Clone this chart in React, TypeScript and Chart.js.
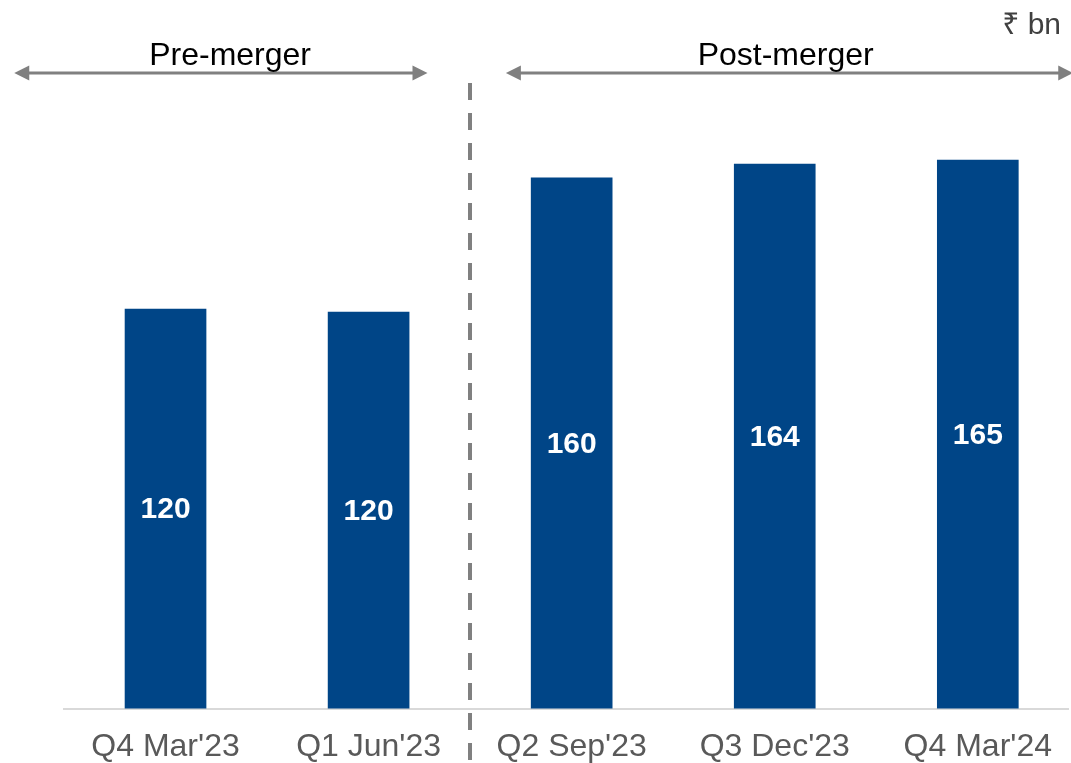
import React, { useEffect, useRef } from "react";
import { Chart, registerables } from "chart.js";

Chart.register(...registerables);

const categories: string[] = ["Q4 Mar'23", "Q1 Jun'23", "Q2 Sep'23", "Q3 Dec'23", "Q4 Mar'24"];
const values: number[] = [120.45, 119.55, 160.0, 164.2, 165.4];
const periodLabels: string[] = ["Pre-merger", "Post-merger"];
// spans of the period arrows and label centres, in category units
const periodStarts: number[] = [-0.745, 1.676];
const periodEnds: number[] = [1.29, 4.47];
const periodLabelAt: number[] = [0.318, 3.054];
const dividerAt = 1.5;
const unitLabel = "₹ bn";

const FONT = "'Liberation Sans', Arial, 'Noto Sans', 'DejaVu Sans', sans-serif";
const BAR = "#004587";
const GREY = "#808080";

const overlayPlugin = {
  id: "overlay",
  afterDatasetsDraw(chart: any) {
    const { ctx } = chart;
    const meta = chart.getDatasetMeta(0);
    ctx.save();
    ctx.fillStyle = "#ffffff";
    ctx.font = `bold 30px ${FONT}`;
    ctx.textAlign = "center";
    ctx.textBaseline = "middle";
    meta.data.forEach((bar: any, i: number) => {
      const p = bar.getProps(["x", "y", "base"], true);
      ctx.fillText(String(Math.round(values[i])), p.x, (p.y + p.base) / 2 + 1);
    });
    ctx.restore();
  },
  afterDraw(chart: any) {
    const { ctx } = chart;
    const xs = chart.scales.x;
    ctx.save();
    // divider
    const dx = Math.round(xs.getPixelForValue(dividerAt));
    ctx.strokeStyle = GREY;
    ctx.lineWidth = 4;
    ctx.setLineDash([17, 13]);
    ctx.beginPath();
    ctx.moveTo(dx, 83);
    ctx.lineTo(dx, chart.height);
    ctx.stroke();
    ctx.setLineDash([]);

    // arrows
    const ay = 73;
    const head = 15;
    const hh = 7.5;
    periodLabels.forEach((lab, i) => {
      const x1 = xs.getPixelForValue(periodStarts[i]);
      const x2 = xs.getPixelForValue(periodEnds[i]);
      ctx.strokeStyle = GREY;
      ctx.fillStyle = GREY;
      ctx.lineWidth = 3;
      ctx.beginPath();
      ctx.moveTo(x1 + head - 1, ay);
      ctx.lineTo(x2 - head + 1, ay);
      ctx.stroke();
      ctx.beginPath();
      ctx.moveTo(x1, ay);
      ctx.lineTo(x1 + head, ay - hh);
      ctx.lineTo(x1 + head, ay + hh);
      ctx.closePath();
      ctx.fill();
      ctx.beginPath();
      ctx.moveTo(x2, ay);
      ctx.lineTo(x2 - head, ay - hh);
      ctx.lineTo(x2 - head, ay + hh);
      ctx.closePath();
      ctx.fill();
      ctx.fillStyle = "#000000";
      ctx.font = `32px ${FONT}`;
      ctx.textAlign = "center";
      ctx.textBaseline = "alphabetic";
      ctx.fillText(lab, xs.getPixelForValue(periodLabelAt[i]), 65);
    });

    // unit
    ctx.fillStyle = "#404040";
    ctx.font = `30px ${FONT}`;
    ctx.textAlign = "right";
    ctx.textBaseline = "alphabetic";
    ctx.fillText(unitLabel, 1061, 34);
    ctx.restore();
  },
};

export default function App() {
  const ref = useRef<HTMLCanvasElement | null>(null);

  useEffect(() => {
    if (!ref.current) return;
    const chart = new Chart(ref.current, {
      type: "bar",
      data: {
        datasets: [
          {
            data: values.map((v, i) => ({ x: i, y: v })),
            backgroundColor: BAR,
            borderWidth: 0,
            barThickness: 81,
          },
        ],
      },
      options: {
        animation: false,
        responsive: false,
        events: [],
        layout: { padding: { left: 64, right: 0, top: 100, bottom: 0 } },
        plugins: {
          legend: { display: false },
          tooltip: { enabled: false },
        },
        scales: {
          x: {
            type: "linear",
            offset: false,
            min: -0.5,
            max: 4.446,
            grid: { display: false, drawTicks: false, offset: false },
            border: { display: true, color: "#d9d9d9", width: 2 },
            afterBuildTicks: (scale: any) => {
              scale.ticks = categories.map((_, i) => ({ value: i }));
            },
            ticks: {
              autoSkip: false,
              maxRotation: 0,
              minRotation: 0,
              padding: 19,
              color: "#595959",
              font: { family: FONT, size: 32 },
              callback: (v: any) => categories[v as number] ?? "",
            },
          },
          y: {
            display: false,
            min: 0,
            max: 183.5,
          },
        },
      },
      plugins: [overlayPlugin],
    } as any);
    return () => chart.destroy();
  }, []);

  return (
    <div style={{ position: "fixed", left: 0, top: 0, width: 1071, height: 763, overflow: "hidden", background: "#fff" }}>
      <canvas ref={ref} width={1071} height={785} style={{ display: "block" }} />
    </div>
  );
}
